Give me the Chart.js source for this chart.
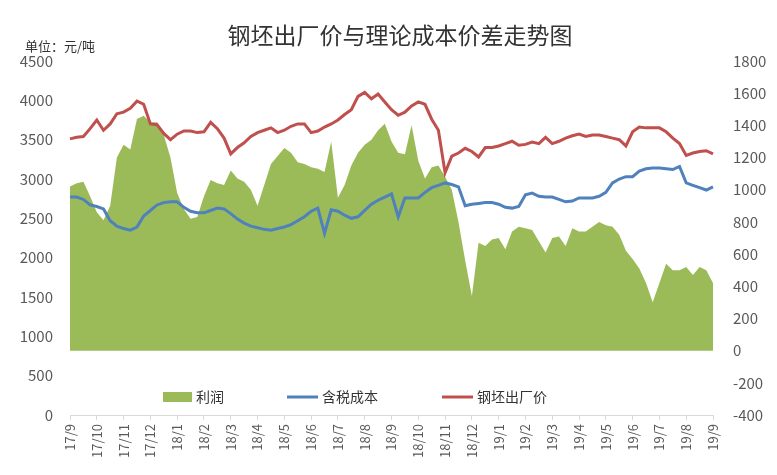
<!DOCTYPE html>
<html>
<head>
<meta charset="utf-8">
<script src="https://cdn.jsdelivr.net/npm/chart.js@4.4.0/dist/chart.umd.min.js"></script>
<style>
  html, body { margin: 0; padding: 0; background: #fff; }
</style>
</head>
<body>
<canvas id="chart" width="777" height="475"></canvas>
<script>
// month tick labels, 4 samples per month (1st, 8th, 15th, 22nd)
const tickLabels = ['17/9', '17/10', '17/11', '17/12', '18/1', '18/2', '18/3', '18/4', '18/5', '18/6', '18/7', '18/8',
  '18/9', '18/10', '18/11', '18/12', '19/1', '19/2', '19/3', '19/4', '19/5', '19/6', '19/7', '19/8', '19/9'];
const sampleDays = [1, 8, 15, 22];

// 利润 (right axis)
const profit = [1020, 1040, 1050, 960, 860, 810, 900, 1200, 1280, 1250,
  1440, 1460, 1420, 1420, 1340, 1200, 980, 880, 820, 830,
  960, 1060, 1040, 1030, 1120, 1070, 1050, 1000, 900, 1030,
  1160, 1210, 1260, 1230, 1170, 1160, 1140, 1130, 1110, 1300,
  950, 1030, 1150, 1230, 1280, 1310, 1370, 1410, 1300, 1230,
  1220, 1400, 1180, 1070, 1140, 1150, 1080, 1000, 800, 560,
  340, 670, 650, 690, 700, 630, 740, 770, 760, 750,
  680, 610, 700, 710, 650, 760, 740, 740, 770, 800,
  780, 770, 720, 620, 570, 510, 420, 300, 420, 540,
  500, 500, 520, 470, 520, 500, 420];

// 含税成本 (left axis)
const cost = [2770, 2770, 2740, 2670, 2650, 2620, 2470, 2400, 2370, 2350,
  2390, 2530, 2600, 2670, 2700, 2710, 2710, 2640, 2590, 2570,
  2570, 2600, 2630, 2620, 2560, 2490, 2440, 2400, 2380, 2360,
  2350, 2370, 2390, 2420, 2470, 2520, 2590, 2630, 2310, 2610,
  2590, 2540, 2500, 2520, 2600, 2680, 2730, 2770, 2810, 2520,
  2760, 2760, 2760, 2830, 2890, 2920, 2950, 2930, 2900, 2660,
  2680, 2690, 2700, 2700, 2680, 2640, 2630, 2650, 2800, 2820,
  2780, 2770, 2770, 2740, 2710, 2720, 2760, 2760, 2760, 2780,
  2830, 2950, 3000, 3030, 3030, 3100, 3130, 3140, 3140, 3130,
  3120, 3160, 2950, 2920, 2890, 2860, 2900];

// 钢坯出厂价 (left axis)
const price = [3510, 3530, 3540, 3640, 3750, 3620, 3700, 3830, 3850, 3900,
  3990, 3950, 3700, 3690, 3580, 3500, 3570, 3610, 3610, 3590,
  3600, 3720, 3640, 3520, 3320, 3400, 3460, 3540, 3590, 3620,
  3650, 3590, 3620, 3670, 3700, 3700, 3590, 3610, 3660, 3700,
  3750, 3820, 3880, 4050, 4100, 4020, 4080, 3980, 3880, 3810,
  3850, 3930, 3980, 3950, 3760, 3620, 3080, 3290, 3330, 3390,
  3350, 3280, 3400, 3400, 3420, 3450, 3480, 3430, 3440, 3470,
  3450, 3530, 3450, 3480, 3520, 3550, 3570, 3540, 3560, 3560,
  3540, 3520, 3500, 3420, 3600, 3660, 3650, 3650, 3650, 3600,
  3520, 3450, 3300, 3330, 3350, 3360, 3320];

const labels = [];
tickLabels.forEach((m, i) => {
    if (i < tickLabels.length - 1) {
        sampleDays.forEach(d => labels.push(m + '/' + d));
    } else {
        labels.push(m + '/1');
    }
});

const GREEN = '#9BBB59', BLUE = '#4F81BD', RED = '#C0504D';
const CJK = '"Noto Sans CJK SC", "Noto Sans", sans-serif';

const decorPlugin = {
    id: 'decor',
    afterDraw(chart) {
        const ctx = chart.ctx;
        ctx.save();
        ctx.fillStyle = '#333';
        ctx.textBaseline = 'middle';
        ctx.font = '23px ' + CJK;
        ctx.textAlign = 'center';
        ctx.fillText('钢坯出厂价与理论成本价差走势图', 400, 35);
        ctx.font = '13px ' + CJK;
        ctx.textAlign = 'left';
        ctx.fillText('单位：元/吨', 25, 46);

        // legend
        const ly = 397;
        ctx.font = '14px ' + CJK;
        ctx.fillStyle = GREEN;
        ctx.fillRect(163, ly - 5, 29, 10);
        ctx.fillStyle = '#333';
        ctx.fillText('利润', 196, ly);
        ctx.lineWidth = 3;
        ctx.strokeStyle = BLUE;
        ctx.beginPath(); ctx.moveTo(287, ly); ctx.lineTo(318, ly); ctx.stroke();
        ctx.fillText('含税成本', 322, ly);
        ctx.strokeStyle = RED;
        ctx.beginPath(); ctx.moveTo(442, ly); ctx.lineTo(473, ly); ctx.stroke();
        ctx.fillText('钢坯出厂价', 477, ly);
        ctx.restore();
    }
};

const plain = v => String(v);

const ctx = document.getElementById('chart');
new Chart(ctx, {
    type: 'line',
    data: {
        labels: labels,
        datasets: [{
            label: '钢坯出厂价',
            data: price,
            yAxisID: 'y',
            borderColor: RED,
            borderWidth: 3,
            pointRadius: 0,
            fill: false,
            order: 1
        }, {
            label: '含税成本',
            data: cost,
            yAxisID: 'y',
            borderColor: BLUE,
            borderWidth: 3,
            pointRadius: 0,
            fill: false,
            order: 2
        }, {
            label: '利润',
            data: profit,
            yAxisID: 'y1',
            borderWidth: 0,
            borderColor: GREEN,
            backgroundColor: GREEN,
            pointRadius: 0,
            fill: 'origin',
            order: 3
        }]
    },
    options: {
        responsive: false,
        animation: false,
        layout: { padding: { top: 61, left: 0, right: 0, bottom: 0 } },
        plugins: {
            legend: { display: false },
            tooltip: { enabled: false }
        },
        scales: {
            x: {
                grid: { drawOnChartArea: false, drawTicks: true, tickLength: 5, color: '#d9d9d9' },
                border: { display: true, color: '#d9d9d9' },
                afterFit(scale) { scale.height = 60; },
                ticks: {
                    autoSkip: false,
                    maxRotation: 90,
                    minRotation: 90,
                    padding: 4,
                    color: '#595959',
                    font: { size: 13, family: CJK },
                    callback(value, index) {
                        return index % 4 === 0 ? tickLabels[index / 4] : null;
                    }
                }
            },
            y: {
                position: 'left',
                min: 0,
                max: 4500,
                grid: { display: false },
                border: { display: false },
                afterFit(scale) { scale.width = 70; },
                ticks: {
                    stepSize: 500,
                    padding: 9,
                    color: '#595959',
                    font: { size: 15, family: CJK },
                    callback: plain
                }
            },
            y1: {
                position: 'right',
                min: -400,
                max: 1800,
                grid: { display: false },
                border: { display: false },
                afterFit(scale) { scale.width = 64; },
                ticks: {
                    stepSize: 200,
                    padding: 12,
                    color: '#595959',
                    font: { size: 15, family: CJK },
                    callback: plain
                }
            }
        }
    },
    plugins: [decorPlugin]
});
</script>
</body>
</html>
